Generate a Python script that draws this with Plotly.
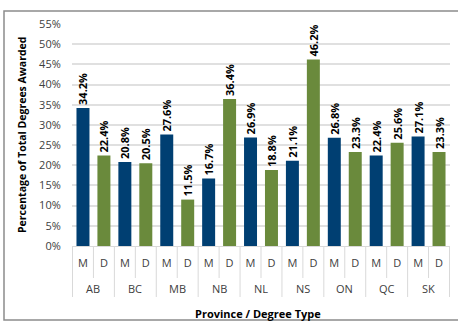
import plotly.graph_objects as go

provinces = ["AB", "BC", "MB", "NB", "NL", "NS", "ON", "QC", "SK"]
degree_types = ["M", "D"]
masters = [34.2, 20.8, 27.6, 16.7, 26.9, 21.1, 26.8, 22.4, 27.1]
doctorates = [22.4, 20.5, 11.5, 36.4, 18.8, 46.2, 23.3, 25.6, 23.3]
y_ticks = list(range(0, 56, 5))
x_title = "Province / Degree Type"
y_title = "Percentage of Total Degrees Awarded"

NAVY = "#003f72"
GREEN = "#6a8a3c"
GRID = "#d9d9d9"
FONT = "Open Sans"

keys, labels, vals, cols = [], [], [], []
for p, m, d in zip(provinces, masters, doctorates):
    for t, v, c in zip(degree_types, [m, d], [NAVY, GREEN]):
        keys.append(f"{p} {t}")
        labels.append(t)
        vals.append(v)
        cols.append(c)

fig = go.Figure(go.Bar(
    x=keys,
    y=vals,
    marker=dict(color=cols, line=dict(width=0)),
    text=[f"{v:.1f}%" for v in vals],
    textposition="outside",
    textangle=-90,
    constraintext="none",
    cliponaxis=False,
    textfont=dict(family=FONT, size=11, color="#000000", weight="bold"),
    hoverinfo="skip",
))

L, R, T, B = 72, 8, 24, 76
W, H = 458, 322
pw, ph = W - L - R, H - T - B

def px(x):
    return (x - L) / pw

def py(y):
    return (H - B - y) / ph

n_types = len(degree_types)
shapes = [dict(type="rect", xref="paper", yref="paper",
               x0=px(4), x1=px(470), y0=py(320), y1=py(11),
               line=dict(color="#8c8c8c", width=1.5), fillcolor="rgba(0,0,0,0)", layer="below")]
annotations = []
for i, p in enumerate(provinces + [None]):
    xb = i * n_types - 0.5
    shapes.append(dict(type="line", xref="x", yref="paper", x0=xb, x1=xb,
                       y0=py(246), y1=py(297), line=dict(color=GRID, width=1)))
    if p is not None:
        for j in range(1, n_types):
            xs = i * n_types + j - 0.5
            shapes.append(dict(type="line", xref="x", yref="paper", x0=xs, x1=xs,
                               y0=py(246), y1=py(278), line=dict(color=GRID, width=1)))
        annotations.append(dict(xref="x", yref="paper", x=i * n_types + (n_types - 1) / 2,
                                y=py(288), text=p, showarrow=False, yanchor="middle",
                                font=dict(family=FONT, size=11, color="#404040")))

annotations.append(dict(xref="paper", yref="paper", x=px(258), y=py(313), text=f"<b>{x_title}</b>",
                        showarrow=False, xanchor="center", yanchor="middle",
                        font=dict(family=FONT, size=11, color="#000000")))
annotations.append(dict(xref="paper", yref="paper", x=px(22), y=py(135), text=f"<b>{y_title}</b>",
                        showarrow=False, xanchor="center", yanchor="middle", textangle=-90,
                        font=dict(family=FONT, size=10.5, color="#000000")))

fig.update_layout(
    width=W, height=H,
    margin=dict(l=L, r=R, t=T, b=B, autoexpand=False),
    paper_bgcolor="white", plot_bgcolor="white",
    bargap=0.38,
    showlegend=False,
    font=dict(family=FONT, size=11, color="#404040"),
    xaxis=dict(
        type="category",
        tickvals=keys, ticktext=labels,
        showline=True, linecolor=GRID, linewidth=1,
        ticks="", automargin=False,
        ticklabelstandoff=7,
        tickfont=dict(size=11, color="#404040"),
    ),
    yaxis=dict(
        range=[0, 55], tickvals=y_ticks, ticktext=[f"{v}%" for v in y_ticks],
        showgrid=True, gridcolor="#e0e0e0", gridwidth=1.5,
        zeroline=False, showline=False, automargin=False,
        tickfont=dict(size=11, color="#404040"),
        ticks="outside", ticklen=8, tickcolor="white",
    ),
    shapes=shapes,
    annotations=annotations,
)

fig.write_html("out.html")
